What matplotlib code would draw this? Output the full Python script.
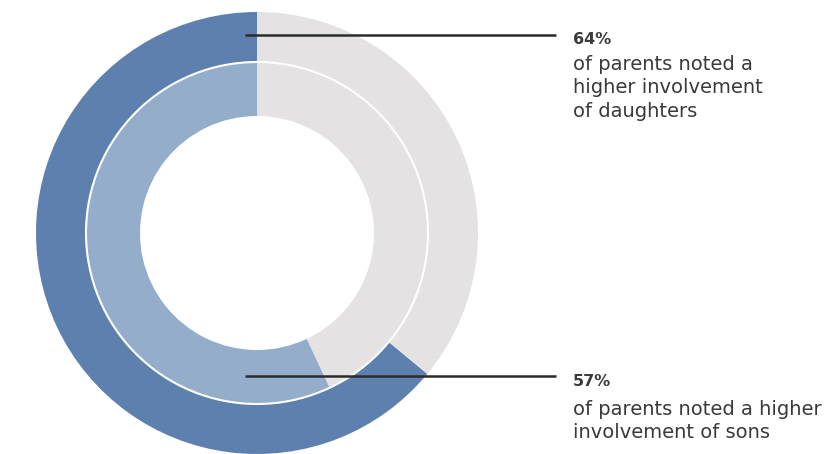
import matplotlib
matplotlib.use("Agg")
import matplotlib.pyplot as plt

# Data
daughters_pct = [64, 36]   # outer ring: higher involvement of daughters
sons_pct = [57, 43]        # inner ring: higher involvement of sons
labels_pct = ["64%", "57%"]
label_lines = [
    ["of parents noted a", "higher involvement", "of daughters"],
    ["of parents noted a higher", "involvement of sons"],
]

dark_blue = "#5d80ae"
light_blue = "#94adcb"
grey = "#e4e2e3"
text_col = "#3a3a3a"

H = 454
fig = plt.figure(figsize=(8.36, 4.54), dpi=100)
ax = fig.add_axes([0, 0, 1, 1])

def Y(y):  # convert pixel-from-top to data y
    return H - y

cx, cy = 257, 233
r_out, r_mid, r_in = 221, 171, 117

ax.pie(daughters_pct, colors=[dark_blue, grey], startangle=90, counterclock=True,
       radius=r_out, center=(cx, Y(cy)), frame=True,
       wedgeprops=dict(width=r_out - r_mid, linewidth=0))
ax.pie(sons_pct, colors=[light_blue, grey], startangle=90, counterclock=True,
       radius=r_mid, center=(cx, Y(cy)), frame=True,
       wedgeprops=dict(width=r_mid - r_in, linewidth=0))
sep = plt.Circle((cx, Y(cy)), r_mid, fill=False, edgecolor="white", linewidth=1.5)
ax.add_patch(sep)

ax.set_xlim(0, 836)
ax.set_ylim(0, H)
ax.set_aspect("equal")
ax.axis("off")

# leader lines
for y in (35, 376):
    ax.plot([245, 556], [Y(y), Y(y)], color="#2b2b2b", linewidth=1.8, solid_capstyle="butt")

font = "DejaVu Sans"
x0 = 573
pct_base = [44, 386]
line_bases = [[70, 93, 117], [415, 438]]
for i in range(2):
    ax.text(x0, Y(pct_base[i]), labels_pct[i], fontsize=11.5, fontweight="bold",
            color=text_col, family=font, va="baseline", ha="left")
    for txt, yb in zip(label_lines[i], line_bases[i]):
        ax.text(x0, Y(yb), txt, fontsize=14, color=text_col, family=font,
                va="baseline", ha="left")

fig.savefig("out.png", dpi=100, facecolor="white")
